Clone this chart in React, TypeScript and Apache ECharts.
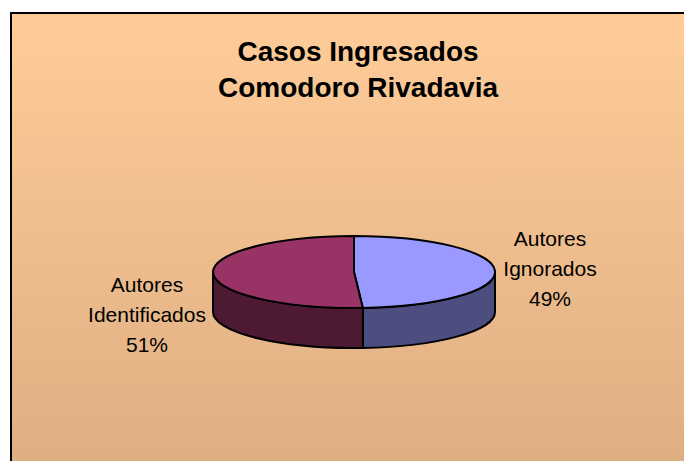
import React, { useEffect, useRef } from "react";
import * as echarts from "echarts";

const categories = ["Autores Ignorados", "Autores Identificados"];
const values = [49, 51];
const topColors = ["#9999FF", "#993366"];
const sideColors = ["#4D4D80", "#4D1933"];
const titleLines = ["Casos Ingresados", "Comodoro Rivadavia"];

const CX = 354;
const CY = 272;
const RX = 141;
const RY = 36;
const DEPTH = 40;

function pt(a: number, dy = 0): [number, number] {
  const r = (a * Math.PI) / 180;
  return [CX + RX * Math.cos(r), CY - RY * Math.sin(r) + dy];
}
function f(p: [number, number]) {
  return `${p[0].toFixed(2)} ${p[1].toFixed(2)}`;
}

export default function App() {
  const ref = useRef<HTMLDivElement>(null);
  useEffect(() => {
    if (!ref.current) return;
    const chart = echarts.init(ref.current, undefined, { renderer: "svg" });
    const total = values.reduce((s, v) => s + v, 0);

    const renderItem = (params: any, api: any) => {
      const i = params.dataIndex;
      const v = api.value(0);
      let before = 0;
      for (let k = 0; k < i; k++) before += values[k];
      const a1 = 90 - (360 * before) / total;
      const sweep = (360 * v) / total;
      const a2 = a1 - sweep;
      const children: any[] = [];
      for (let k = -1; k <= 1; k++) {
        const lo = Math.max(a2, -180 + 360 * k);
        const hi = Math.min(a1, 360 * k);
        if (hi > lo) {
          const large = hi - lo > 180 ? 1 : 0;
          const d =
            `M ${f(pt(hi))} A ${RX} ${RY} 0 ${large} 1 ${f(pt(lo))} ` +
            `L ${f(pt(lo, DEPTH))} A ${RX} ${RY} 0 ${large} 0 ${f(pt(hi, DEPTH))} Z`;
          children.push({
            type: "path",
            z2: 1,
            shape: { pathData: d },
            style: { fill: sideColors[i], stroke: "#000", lineWidth: 2, lineJoin: "round" },
          });
        }
      }
      const largeTop = sweep > 180 ? 1 : 0;
      const dTop = `M ${CX} ${CY} L ${f(pt(a1))} A ${RX} ${RY} 0 ${largeTop} 1 ${f(pt(a2))} Z`;
      children.push({
        type: "path",
        z2: 2,
        shape: { pathData: dTop },
        style: { fill: topColors[i], stroke: "#000", lineWidth: 2, lineJoin: "round" },
      });
      const mid = (a1 + a2) / 2;
      const side = Math.cos((mid * Math.PI) / 180) >= 0 ? 1 : -1;
      const lx = CX + side * (RX + (side > 0 ? 55 : 66));
      const ly = CY - RY * Math.sin((mid * Math.PI) / 180) + (side < 0 ? DEPTH + 1 : -2);
      const pct = Math.round((v / total) * 100) + "%";
      const name = categories[i].split(" ").join("\n");
      children.push({
        type: "text",
        z2: 3,
        x: lx,
        y: ly,
        style: {
          text: name + "\n" + pct,
          fill: "#000",
          fontSize: 21,
          fontFamily: "Liberation Sans, Arial, sans-serif",
          align: "center",
          verticalAlign: "middle",
          lineHeight: 30,
        },
      });
      return { type: "group", children };
    };

    chart.setOption({
      animation: false,
      graphic: [
        {
          type: "rect",
          z: -10,
          shape: { x: 11, y: 13, width: 700, height: 480 },
          style: {
            fill: {
              type: "linear",
              x: 0,
              y: 0,
              x2: 0,
              y2: 1,
              colorStops: [
                { offset: 0, color: "#FFCC99" },
                { offset: 1, color: "#DCAD82" },
              ],
            },
            stroke: "#000",
            lineWidth: 2,
          },
        },
      ],
      title: {
        text: titleLines.join("\n"),
        left: 353,
        top: 28,
        textAlign: "center",
        textStyle: {
          fontSize: 28,
          fontWeight: "bold",
          fontFamily: "Liberation Sans, Arial, sans-serif",
          color: "#000",
          lineHeight: 36,
        },
      },
      series: [
        {
          type: "custom",
          coordinateSystem: "none",
          silent: true,
          renderItem,
          data: categories.map((c, i) => ({ name: c, value: values[i] })),
        },
      ],
    });
    return () => chart.dispose();
  }, []);
  return (
    <div
      ref={ref}
      style={{ position: "absolute", left: 0, top: 0, width: 684, height: 461 }}
    />
  );
}
